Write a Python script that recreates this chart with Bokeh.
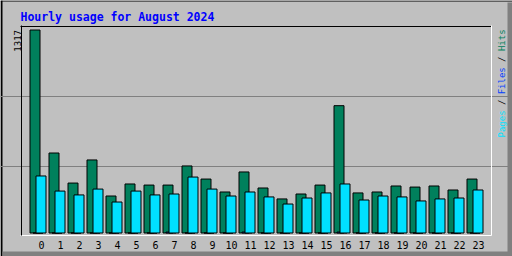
import math
from bokeh.plotting import figure
from bokeh.models import (Range1d, FixedTicker, LinearAxis, ColumnDataSource, Label,
                          BoxAnnotation, Grid)
from bokeh.transform import dodge
from bokeh.embed import file_html
from bokeh.resources import INLINE

# ---- data ----
hours = list(range(24))
hour_labels = [str(h) for h in hours]
hits = [1317, 519, 324, 474, 240, 318, 311, 311, 435, 350, 266, 396,
        292, 221, 253, 311, 826, 260, 266, 305, 298, 305, 279, 350]
files = [0, 0, 0, 0, 0, 0, 0, 6, 0, 0, 0, 6,
         0, 0, 0, 0, 6, 0, 0, 0, 0, 0, 0, 0]
pages = [370, 272, 247, 285, 201, 272, 247, 253, 363, 285, 240, 266,
         234, 188, 227, 260, 318, 214, 240, 234, 208, 221, 227, 279]
y_max_label = str(max(hits))
title_text = "Hourly usage for August 2024"
# legend pieces (text, colour, start char index), read bottom-to-top
legend_parts = [("Pages", "#00E0FF", 0), ("/", "#000000", 6), ("Files", "#0040FF", 8),
                ("/", "#000000", 14), ("Hits", "#00805C", 16)]

# ---- layout geometry (pixels, canvas coordinates) ----
W, H = 512, 256
FL, FR, FT, FB = 20, 490, 25, 234   # plot-area border rows/columns
STEP = 19.0            # px per hour
TICK0 = 41.0           # px of hour 0 label centre
ZERO_PX = 232.5        # px of value 0
MAX_PX = 29.5          # px of max hits
k = (ZERO_PX - MAX_PX) / max(hits)   # px per unit
BASE_FIX = 3.0         # baseline correction of the svg text renderer

# data ranges spanning the whole canvas
x0 = (0 - TICK0) / STEP
x1 = (W - TICK0) / STEP
y0 = (ZERO_PX - H) / k
y1 = ZERO_PX / k


def hx(px):
    return (px - TICK0) / STEP


BW = 10 / STEP

src = ColumnDataSource(dict(hour=hours, hits=hits, files=files, pages=pages))

p = figure(width=W, height=H, x_range=Range1d(x0, x1), y_range=Range1d(y0, y1),
           output_backend="svg", toolbar_location=None, title=None,
           x_axis_location=None, y_axis_location=None, min_border=0)
p.extra_x_ranges = {"px": Range1d(0, W)}
p.extra_y_ranges = {"px": Range1d(H, 0)}
p.xgrid.visible = False
p.ygrid.visible = False
p.background_fill_color = "#C0C0C0"
p.border_fill_color = "#C0C0C0"
p.outline_line_color = None


# outer bevel
def band(l, r, t, b, col):
    p.add_layout(BoxAnnotation(left=l, right=r, top=t, bottom=b,
                               x_range_name="px", y_range_name="px",
                               fill_color=col, fill_alpha=1, line_color=None,
                               level="underlay"))


band(0, 2, 0, H, "#000000")
band(0, W, 0, 1, "#000000")
band(W - 5, W, 2, H, "#808080")
band(2, W, H - 5, H, "#808080")

# grid at thirds of the plot area
grid_rows = [FT + (FB - FT + 1) * i / 3 + 0.5 for i in (1, 2)]
p.add_layout(Grid(dimension=1, ticker=FixedTicker(ticks=[(ZERO_PX - r) / k for r in grid_rows]),
                  bounds=(hx(FL), hx(FR)), grid_line_color="#808080", grid_line_width=1))

p.vbar(x=dodge("hour", -6.5 / STEP), top="hits", bottom=0, width=BW, source=src,
       fill_color="#00805C", line_color="black", line_width=1)
p.vbar(x=dodge("hour", -3.5 / STEP), top="files", bottom=0, width=BW, source=src,
       fill_color="#0040FF", line_color="black", line_width=1)
p.vbar(x=dodge("hour", -0.5 / STEP), top="pages", bottom=0, width=BW, source=src,
       fill_color="#00E0FF", line_color="black", line_width=1)


def plain(**kw):
    base = dict(major_tick_line_color=None, minor_tick_line_color=None,
                major_tick_out=0, major_tick_in=0, minor_tick_out=0, minor_tick_in=0)
    base.update(kw)
    return LinearAxis(**base)


# plot-area borders
p.add_layout(plain(x_range_name="px", y_range_name="px", fixed_location=FT + 0.5,
                   bounds=(FL, FR + 1), ticker=FixedTicker(ticks=[]),
                   axis_line_color="black", major_label_text_font_size="0px"), "above")
p.add_layout(plain(x_range_name="px", y_range_name="px", fixed_location=FL + 0.5,
                   bounds=(FT, FB + 1), ticker=FixedTicker(ticks=[]),
                   axis_line_color="black", major_label_text_font_size="0px"), "left")
p.add_layout(plain(x_range_name="px", y_range_name="px", fixed_location=FR + 0.5,
                   bounds=(FT, FB + 1), ticker=FixedTicker(ticks=[]),
                   axis_line_color="white", major_label_text_font_size="0px"), "right")

# hour axis
xa = plain(y_range_name="px", fixed_location=FB + 0.5, bounds=(hx(FL), hx(FR + 1)),
           ticker=FixedTicker(ticks=hours),
           major_label_overrides={h: s for h, s in zip(hours, hour_labels)},
           axis_line_color="white", major_label_standoff=6,
           major_label_text_font="DejaVu Sans Mono", major_label_text_font_size="10px",
           major_label_text_color="black")
p.add_layout(xa, "below")

# title
p.add_layout(Label(x=20, y=19 - BASE_FIX, x_range_name="px", y_range_name="px", text=title_text,
                   text_font="DejaVu Sans Mono", text_font_style="bold",
                   text_font_size="11.5px", text_color="#0000FF",
                   text_align="left", text_baseline="alphabetic"))

# maximum value, rotated, ending at its own height
p.add_layout(Label(x=19.5 - BASE_FIX, y=max(hits), x_range_name="px", text=y_max_label,
                   angle=math.pi / 2, text_font="DejaVu Sans Mono", text_font_size="9px",
                   text_color="black", text_align="right", text_baseline="alphabetic"))

# right-side legend, bottom-to-top
LEG_BOTTOM, LEG_X, LEG_CH = 137.0, 504.0 - BASE_FIX, 5.4
for txt, col, start in legend_parts:
    p.add_layout(Label(x=LEG_X, y=LEG_BOTTOM - start * LEG_CH,
                       x_range_name="px", y_range_name="px", text=txt, angle=math.pi / 2,
                       text_font="DejaVu Sans Mono", text_font_size="9px", text_color=col,
                       text_align="left", text_baseline="alphabetic"))

open("out.html", "w").write(file_html(p, INLINE))
